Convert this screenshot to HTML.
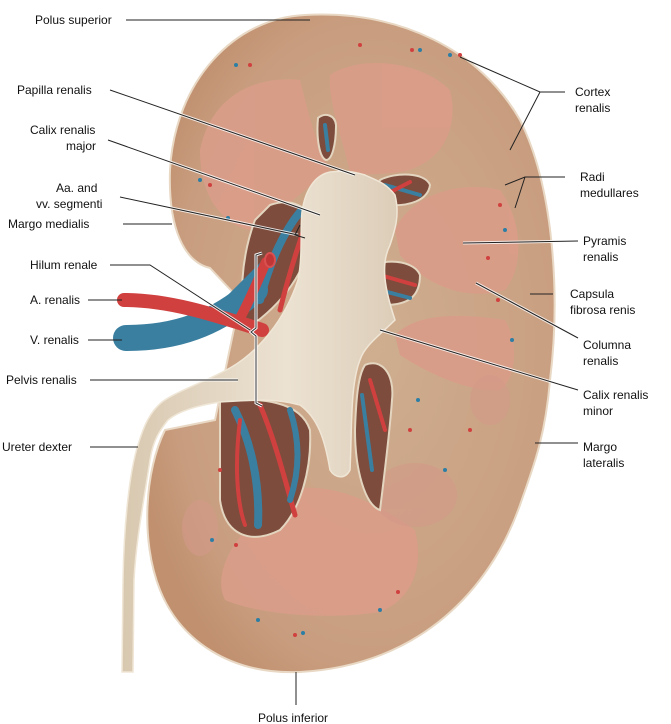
<!DOCTYPE html>
<html><head><meta charset="utf-8"><style>
html,body{margin:0;padding:0;background:#fff;}
svg{display:block;}
text{font-family:"Liberation Sans",sans-serif;font-size:12px;fill:#111;}
</style></head><body>
<svg width="671" height="724" viewBox="0 0 671 724" xmlns="http://www.w3.org/2000/svg">
<defs>
<radialGradient id="ctx" cx="0.55" cy="0.5" r="0.6">
<stop offset="0" stop-color="#cfae90"/><stop offset="0.8" stop-color="#c99e80"/><stop offset="1" stop-color="#c0906f"/>
</radialGradient>
<linearGradient id="pel" x1="0" y1="0" x2="1" y2="0">
<stop offset="0" stop-color="#d8c8b0"/><stop offset="0.6" stop-color="#ece2d2"/><stop offset="1" stop-color="#dccdb8"/>
</linearGradient>
</defs>
<!-- kidney -->
<path d="M305,15 C400,10 480,50 520,120 C555,190 560,300 550,380 C545,440 532,470 520,505 C490,590 420,665 300,672 C230,675 180,640 160,590 C140,540 145,470 165,430 L215,420 L240,300 L210,268 C185,262 168,230 170,170 C175,80 235,18 305,15 Z" fill="url(#ctx)" stroke="#e8d8c4" stroke-width="2"/>
<!-- pyramids -->
<g fill="#d99d88" opacity="0.95">
<path d="M200,150 C210,100 250,75 300,80 C310,120 318,150 330,170 C290,200 270,225 250,230 C225,225 200,200 200,150 Z"/>
<path d="M330,75 C360,55 420,60 450,90 C460,130 440,165 400,172 C375,175 358,175 350,172 C340,130 328,100 330,75 Z"/>
<path d="M395,230 C410,195 460,180 500,190 C522,220 525,265 505,290 C470,300 430,290 400,255 Z"/>
<path d="M395,335 C420,310 470,315 505,320 C520,345 515,380 500,390 C470,392 430,375 400,355 Z"/>
<path d="M300,488 C340,485 380,505 415,530 C425,570 410,600 380,612 C330,620 260,615 225,600 C210,570 240,520 300,488 Z"/>
</g>
<g fill="#d49a88" opacity="0.6">
<ellipse cx="415" cy="495" rx="42" ry="32"/>
<ellipse cx="200" cy="528" rx="18" ry="28"/>
<ellipse cx="490" cy="400" rx="20" ry="25"/>
</g>
<!-- sinus dark cavities -->
<g fill="#7d4c3c" stroke="#e3d5bf" stroke-width="2">
<path d="M270,205 C290,198 310,205 312,225 C312,260 290,300 245,330 C240,300 240,260 255,220 Z"/>
<path d="M220,400 C260,398 300,400 310,430 C312,470 300,510 280,530 C250,545 225,535 220,500 Z"/>
<path d="M380,180 C395,172 425,172 430,185 C428,200 410,207 385,205 C378,198 376,188 380,180 Z"/>
<path d="M375,265 C390,258 415,262 420,275 C420,295 410,305 385,305 C372,295 370,275 375,265 Z"/>
<path d="M365,365 C380,358 395,372 392,400 C390,430 385,470 380,510 C365,505 355,470 355,430 C356,400 358,375 365,365 Z"/>
<path d="M318,118 C325,112 335,115 336,125 C336,145 332,160 326,160 C320,158 316,140 318,118 Z"/>
</g>
<!-- vessels in cavities -->
<g stroke-linecap="round" fill="none">
<path d="M260,300 C270,260 285,230 300,212" stroke="#3a7fa0" stroke-width="8"/>
<path d="M280,310 C290,270 300,240 308,218" stroke="#d0403f" stroke-width="5"/>
<path d="M235,410 C250,440 260,480 258,525" stroke="#3a7fa0" stroke-width="8"/>
<path d="M260,405 C275,440 285,480 295,515" stroke="#d0403f" stroke-width="5"/>
<path d="M240,420 C235,460 236,500 245,525" stroke="#d0403f" stroke-width="4"/>
<path d="M290,410 C300,440 300,470 290,500" stroke="#3a7fa0" stroke-width="6"/>
<path d="M385,185 L420,195" stroke="#3a7fa0" stroke-width="4"/>
<path d="M385,195 L410,182" stroke="#d0403f" stroke-width="4"/>
<path d="M380,275 L415,285" stroke="#d0403f" stroke-width="4"/>
<path d="M380,290 L410,298" stroke="#3a7fa0" stroke-width="4"/>
<path d="M370,380 L385,430" stroke="#d0403f" stroke-width="4"/>
<path d="M362,395 L372,470" stroke="#3a7fa0" stroke-width="4"/>
<path d="M325,125 L328,150" stroke="#3a7fa0" stroke-width="4"/>
</g>
<!-- renal vessels outside -->
<g stroke-linecap="round" fill="none">
<path d="M126,338 C175,338 215,325 255,290" stroke="#3a7fa0" stroke-width="26"/>
<path d="M215,315 C235,295 250,280 268,262" stroke="#3a7fa0" stroke-width="10"/>
<path d="M124,300 C170,300 215,315 262,330" stroke="#d0403f" stroke-width="14"/>
<path d="M240,318 C250,300 258,280 266,262" stroke="#d0403f" stroke-width="10"/>
</g>
<ellipse cx="270" cy="260" rx="5" ry="7" fill="#c03535" stroke="#d85050" stroke-width="2"/>
<!-- pelvis + ureter -->
<path d="M122,672 L123,580 C124,520 130,470 138,445 C144,425 150,412 162,402 C175,392 205,382 230,368 C258,352 285,320 298,280 C303,255 300,230 302,212 C305,190 315,175 330,172 C345,170 355,172 365,175 C375,180 385,182 395,195 C400,215 395,230 390,245 C380,265 385,290 395,320 C380,335 365,345 360,360 C350,385 352,430 350,470 C345,480 335,478 330,470 C325,440 318,418 300,405 C275,398 250,400 220,402 C200,405 180,410 168,420 C160,430 153,440 150,460 C144,500 136,540 134,580 L133,672 Z" fill="url(#pel)" stroke="#f0e6d6" stroke-width="1.5"/>
<!-- small vessel dots -->
<g fill="#d0403f">
<circle cx="460" cy="55" r="2"/><circle cx="412" cy="50" r="2"/><circle cx="360" cy="45" r="2"/><circle cx="250" cy="65" r="2"/><circle cx="500" cy="205" r="2"/><circle cx="498" cy="300" r="2"/><circle cx="470" cy="430" r="2"/><circle cx="410" cy="430" r="2"/><circle cx="220" cy="470" r="2"/><circle cx="236" cy="545" r="2"/><circle cx="295" cy="635" r="2"/><circle cx="398" cy="592" r="2"/><circle cx="210" cy="185" r="2"/><circle cx="488" cy="258" r="2"/>
</g>
<g fill="#2d7ea5">
<circle cx="450" cy="55" r="2"/><circle cx="420" cy="50" r="2"/><circle cx="236" cy="65" r="2"/><circle cx="200" cy="180" r="2"/><circle cx="228" cy="218" r="2"/><circle cx="505" cy="230" r="2"/><circle cx="512" cy="340" r="2"/><circle cx="445" cy="470" r="2"/><circle cx="212" cy="540" r="2"/><circle cx="258" cy="620" r="2"/><circle cx="380" cy="610" r="2"/><circle cx="303" cy="633" r="2"/><circle cx="418" cy="400" r="2"/>
</g>
<!-- leader lines -->
<g stroke="#fff" stroke-width="3" fill="none" opacity="0.8">
<path d="M110,90 L355,175 M108,140 L320,215 M120,197 L298,235 M110,265 L150,265 L250,330 M90,380 L238,380 M578,241 L463,243 M578,338 L476,283 M578,390 L380,330"/>
</g>
<g stroke="#222" stroke-width="1" fill="none">
<path d="M126,20 L310,20"/>
<path d="M110,90 L355,175"/>
<path d="M108,140 L320,215"/>
<path d="M120,197 L298,235 M300,225 L295,235 L305,238"/>
<path d="M123,224 L172,224"/>
<path d="M110,265 L150,265 L250,330"/>
<path d="M88,300 L122,300"/>
<path d="M88,340 L122,340"/>
<path d="M90,380 L238,380"/>
<path d="M90,447 L138,447"/>
<path d="M296,672 L296,705"/>
<path d="M565,92 L540,92 L460,57 M540,92 L510,150"/>
<path d="M565,177 L525,177 L505,185 M525,177 L515,208"/>
<path d="M578,241 L463,243"/>
<path d="M553,294 L530,294"/>
<path d="M578,338 L476,283"/>
<path d="M578,390 L380,330"/>
<path d="M578,443 L535,443"/>
</g>
<!-- hilum bracket -->
<path d="M262,253 L256,255 L256,328 L251,332 L256,336 L256,403 L262,406" stroke="#fff" stroke-width="3" fill="none"/>
<path d="M262,253 L256,255 L256,328 L251,332 L256,336 L256,403 L262,406" stroke="#333" stroke-width="1" fill="none"/>
<!-- labels -->
<text x="35" y="24">Polus superior</text>
<text x="17" y="94">Papilla renalis</text>
<text x="30" y="134">Calix renalis</text>
<text x="66" y="150">major</text>
<text x="56" y="192">Aa. and</text>
<text x="36" y="208">vv. segmenti</text>
<text x="8" y="228">Margo medialis</text>
<text x="30" y="269">Hilum renale</text>
<text x="30" y="304">A. renalis</text>
<text x="30" y="344">V. renalis</text>
<text x="6" y="384">Pelvis renalis</text>
<text x="2" y="451">Ureter dexter</text>
<text x="258" y="722">Polus inferior</text>
<text x="575" y="96">Cortex</text>
<text x="575" y="112">renalis</text>
<text x="580" y="181">Radi</text>
<text x="580" y="197">medullares</text>
<text x="583" y="245">Pyramis</text>
<text x="583" y="261">renalis</text>
<text x="570" y="298">Capsula</text>
<text x="570" y="314">fibrosa renis</text>
<text x="583" y="349">Columna</text>
<text x="583" y="365">renalis</text>
<text x="583" y="399">Calix renalis</text>
<text x="583" y="415">minor</text>
<text x="583" y="451">Margo</text>
<text x="583" y="467">lateralis</text>
</svg>
</body></html>
